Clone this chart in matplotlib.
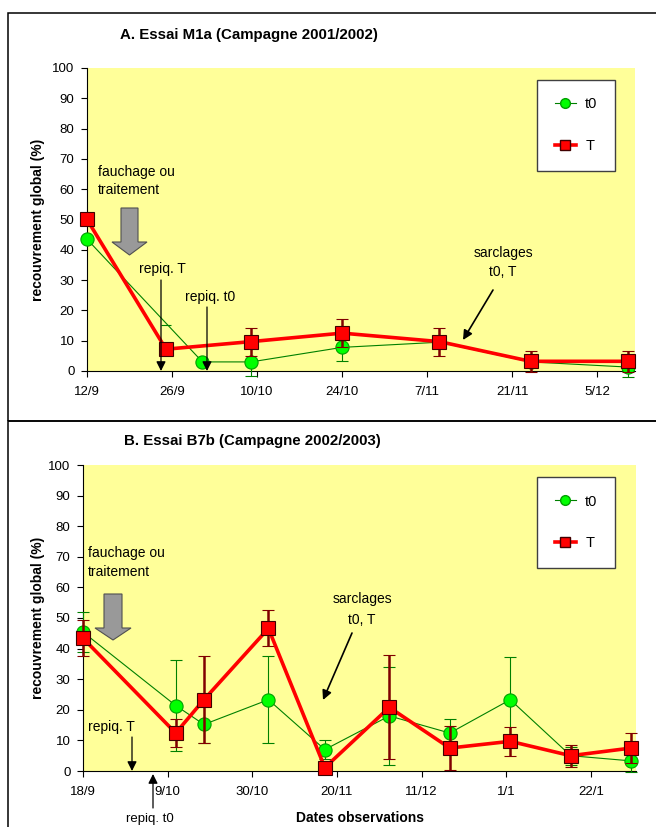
import numpy as np
import pandas as pd
import matplotlib
matplotlib.use('Agg')
import matplotlib.pyplot as plt
import matplotlib.dates as mdates
import matplotlib.patches as mpatches
from matplotlib.lines import Line2D
from matplotlib.ticker import FuncFormatter

plt.rcParams['font.family'] = ['Liberation Sans', 'DejaVu Sans']

# A. Essai M1a (Campagne 2001/2002)
dates_A_t0 = ['2001-09-12', '2001-10-01', '2001-10-09', '2001-10-24', '2001-11-09', '2001-11-24', '2001-12-10']
t0_A = [43.5, 3.0, 3.0, 7.8, 9.5, 3.0, 1.3]
t0_A_err = [0, 0, 4.5, 4.5, 0, 0, 3.3]
dates_A_T = ['2001-09-12', '2001-09-25', '2001-10-09', '2001-10-24', '2001-11-09', '2001-11-24', '2001-12-10']
T_A = [50.0, 7.2, 9.7, 12.5, 9.7, 3.2, 3.2]
T_A_err = [0, 0, 4.6, 4.6, 4.6, 3.4, 3.4]
# lone t0 error cap left on the line at 25/9
cap_A_date = ['2001-09-25']
cap_A_value = [15.2]
ticks_A = ['2001-09-12', '2001-09-26', '2001-10-10', '2001-10-24', '2001-11-07', '2001-11-21', '2001-12-05']

# B. Essai B7b (Campagne 2002/2003)
dates_B = ['2002-09-18', '2002-10-11', '2002-10-18', '2002-11-03', '2002-11-17',
           '2002-12-03', '2002-12-18', '2003-01-02', '2003-01-17', '2003-02-01']
t0_B = [45.4, 21.4, 15.2, 23.3, 7.0, 18.0, 12.4, 23.3, 5.0, 3.3]
t0_B_err = [6.4, 15.0, 6.0, 14.2, 3.0, 16.0, 4.6, 14.1, 3.0, 3.5]
T_B = [43.4, 12.4, 23.3, 46.6, 1.1, 20.8, 7.5, 9.7, 5.0, 7.5]
T_B_err = [5.9, 4.6, 14.3, 5.9, 0, 17.0, 7.2, 4.8, 3.6, 5.0]
ticks_B = ['2002-09-18', '2002-10-09', '2002-10-30', '2002-11-20', '2002-12-11', '2003-01-01', '2003-01-22']

W, H = 656, 827
fig = plt.figure(figsize=(W / 100, H / 100), dpi=100)


def fx(x):
    return x / W


def fy(y):
    return 1 - y / H


def day_month(x, pos):
    d = mdates.num2date(x)
    return f'{d.day}/{d.month}'


def panel(box, d_t0, t0, t0_err, d_T, T, T_err, ticks, start, ndays):
    left, top, right, bottom = box
    ax = fig.add_axes([fx(left), fy(bottom), (right - left) / W, (bottom - top) / H])
    ax.set_facecolor('#FFFF99')
    c1 = ax.errorbar(pd.to_datetime(d_t0), t0, yerr=t0_err, color='#008000', lw=0.8,
                     marker='o', ms=9.5, mfc='#00FF00', mec='#00A000', mew=0.8,
                     ecolor='#008000', elinewidth=0.8, capsize=4.5, capthick=0.8, zorder=3)
    c2 = ax.errorbar(pd.to_datetime(d_T), T, yerr=T_err, color='#FF0000', lw=2.6,
                     marker='s', ms=10, mfc='#FF0000', mec='#400000', mew=0.8,
                     ecolor='#800000', elinewidth=1.8, capsize=4.5, capthick=1.8, zorder=4)
    for c in (c1, c2):
        for a in c.get_children():
            a.set_clip_on(False)
    ax.set_ylim(0, 100)
    ax.set_yticks(range(0, 101, 10))
    t_start = pd.Timestamp(start)
    ax.set_xlim(t_start, t_start + pd.Timedelta(days=ndays))
    ax.set_xticks(pd.to_datetime(ticks))
    ax.xaxis.set_major_formatter(FuncFormatter(day_month))
    ax.tick_params(direction='out', length=4, width=0.8, labelsize=9.5, pad=5)
    ax.tick_params(axis='x', pad=7)
    for s in ('top', 'right'):
        ax.spines[s].set_visible(False)
    for s in ('left', 'bottom'):
        ax.spines[s].set_linewidth(0.8)
    handles = [Line2D([], [], color='#008000', lw=0.8, marker='o', ms=7, mfc='#00FF00', mec='#00A000'),
               Line2D([], [], color='#FF0000', lw=2.6, marker='s', ms=7, mfc='#FF0000', mec='#400000')]
    lx = (537 - left) / (right - left)
    ly = (bottom - top - 12) / (bottom - top)
    leg = ax.legend(handles, ['t0', 'T'], loc='upper left', bbox_to_anchor=(lx, ly),
                    fontsize=10.5, borderpad=1.2, labelspacing=1.9, handlelength=1.5,
                    handletextpad=0.6, fancybox=False, framealpha=1, edgecolor='#404040',
                    borderaxespad=0)
    leg.get_frame().set_linewidth(1.0)
    fig.text(fx(38), fy((top + bottom) / 2), 'recouvrement global (%)', rotation=90,
             ha='center', va='center', fontsize=10, fontweight='bold')
    return ax


def block_arrow(xc, ytop, yneck, ytip, bw, hw):
    pts = [(xc - bw / 2, ytop), (xc + bw / 2, ytop), (xc + bw / 2, yneck), (xc + hw / 2, yneck),
           (xc, ytip), (xc - hw / 2, yneck), (xc - bw / 2, yneck)]
    fig.add_artist(mpatches.Polygon([(fx(x), fy(y)) for x, y in pts], closed=True,
                                    transform=fig.transFigure, fc='#999999', ec='#505050', lw=0.8))


def thin_arrow(x0, y0, x1, y1, lw=0.9):
    fig.add_artist(mpatches.FancyArrowPatch((fx(x0), fy(y0)), (fx(x1), fy(y1)),
                                            transform=fig.transFigure, arrowstyle='-|>',
                                            mutation_scale=14, lw=lw, color='black',
                                            shrinkA=0, shrinkB=0))


# panel frames
fig.add_artist(mpatches.Rectangle((fx(8), fy(421)), 1, (421 - 13) / H, transform=fig.transFigure,
                                  fill=False, lw=1.1, ec='black'))
fig.add_artist(mpatches.Rectangle((fx(8), fy(900)), 1, (900 - 421) / H, transform=fig.transFigure,
                                  fill=False, lw=1.1, ec='black'))

# panel A
axA = panel((87, 68, 635, 371), dates_A_t0, t0_A, t0_A_err, dates_A_T, T_A, T_A_err,
            ticks_A, '2001-09-12', 90.2)
axA.plot(pd.to_datetime(cap_A_date), cap_A_value, ls='none', marker='_', ms=7,
         mec='#008000', mew=0.8, zorder=3)
fig.text(fx(120), fy(35), 'A. Essai M1a (Campagne 2001/2002)', fontsize=10.8,
         fontweight='bold', ha='left', va='center')
fig.text(fx(98), fy(172), 'fauchage ou', fontsize=10, ha='left', va='center')
fig.text(fx(98), fy(190), 'traitement', fontsize=10, ha='left', va='center')
block_arrow(129.5, 208, 242, 255, 17, 35)
fig.text(fx(139), fy(269), 'repiq. T', fontsize=10, ha='left', va='center')
thin_arrow(161, 280, 161, 371)
fig.text(fx(185), fy(297), 'repiq. t0', fontsize=10, ha='left', va='center')
thin_arrow(207, 307, 207, 371)
fig.text(fx(503), fy(253), 'sarclages', fontsize=10, ha='center', va='center')
fig.text(fx(503), fy(272), 't0, T', fontsize=10, ha='center', va='center')
thin_arrow(493, 290, 463, 340, lw=1.2)

# panel B
axB = panel((83, 465, 636, 771), dates_B, t0_B, t0_B_err, dates_B, T_B, T_B_err,
            ticks_B, '2002-09-18', 137.2)
fig.text(fx(124), fy(441), 'B. Essai B7b (Campagne 2002/2003)', fontsize=10.8,
         fontweight='bold', ha='left', va='center')
fig.text(fx(360), fy(818), 'Dates observations', fontsize=10, fontweight='bold',
         ha='center', va='center')
fig.text(fx(88), fy(553), 'fauchage ou', fontsize=10, ha='left', va='center')
fig.text(fx(88), fy(572), 'traitement', fontsize=10, ha='left', va='center')
block_arrow(113, 594, 628, 640, 18, 36)
fig.text(fx(88), fy(727), 'repiq. T', fontsize=10, ha='left', va='center')
thin_arrow(132, 737, 132, 771)
fig.text(fx(150), fy(819), 'repiq. t0', fontsize=9.5, ha='center', va='center')
thin_arrow(153, 808, 153, 774)
fig.text(fx(362), fy(599), 'sarclages', fontsize=10, ha='center', va='center')
fig.text(fx(362), fy(620), 't0, T', fontsize=10, ha='center', va='center')
thin_arrow(352, 633, 323, 700, lw=1.2)

fig.savefig('out.png', dpi=100)
